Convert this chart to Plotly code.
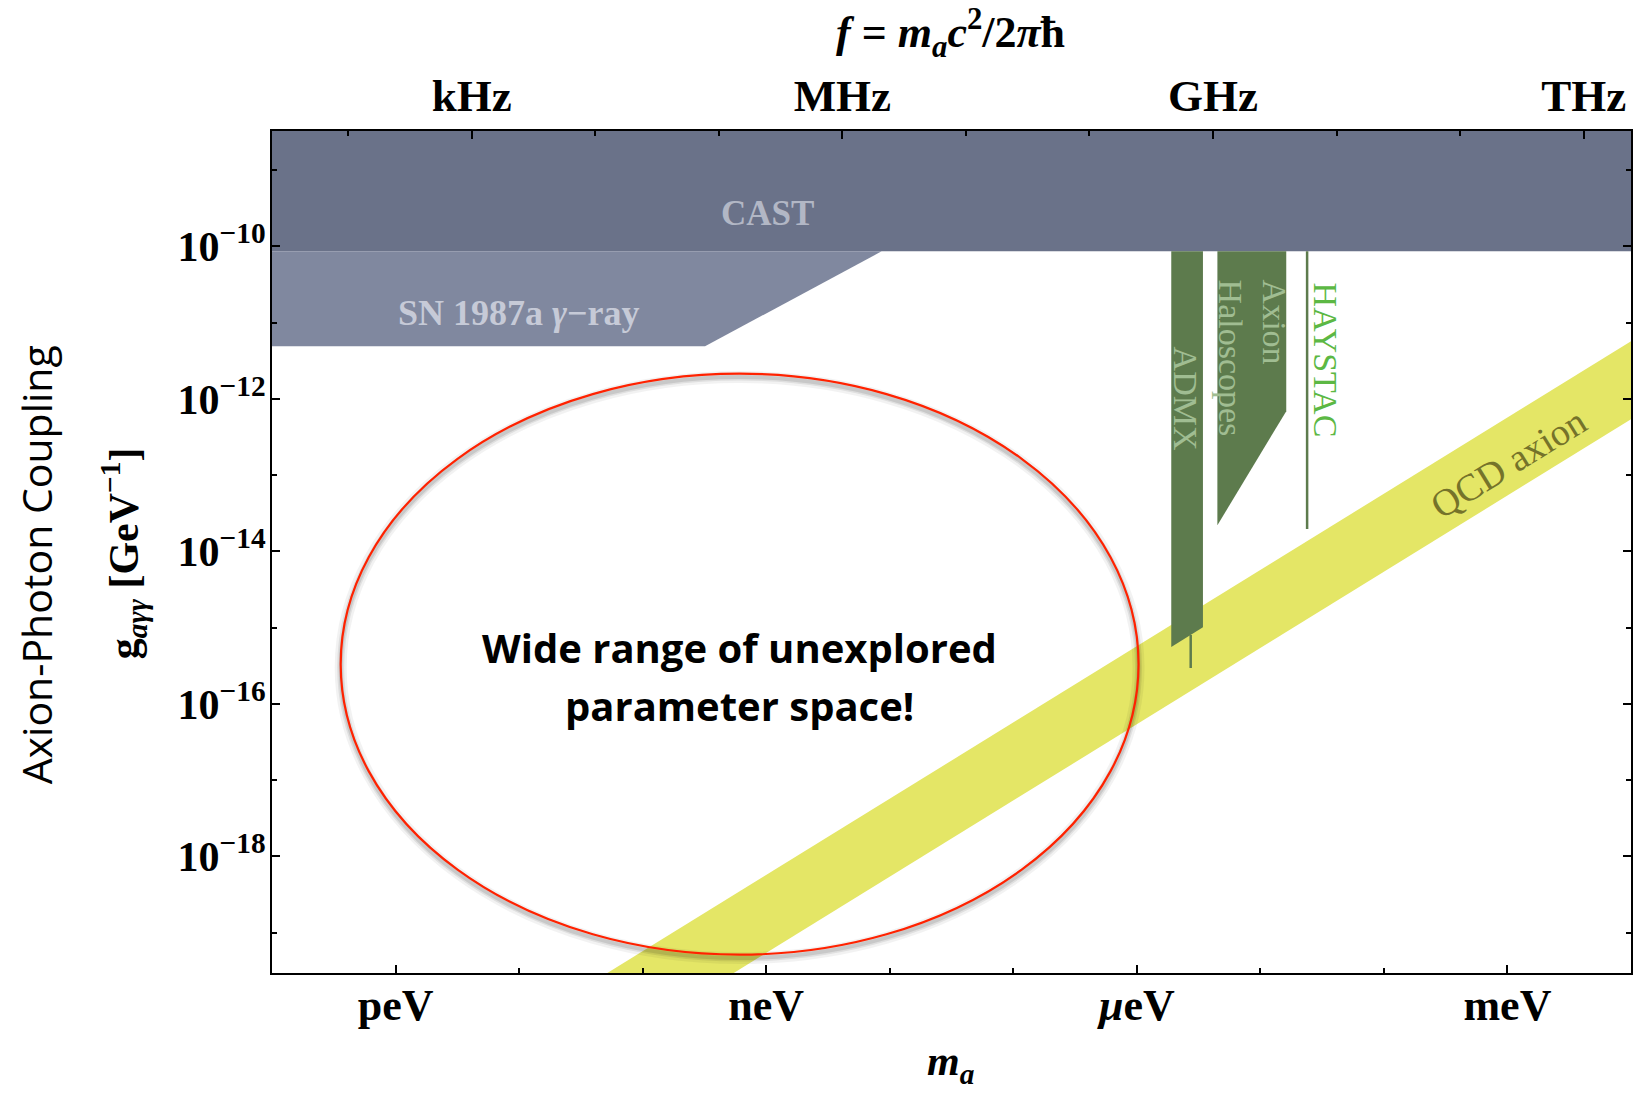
import plotly.graph_objects as go

# ---------------- constants / axis setup ----------------
H_EV_S = 4.135667696e-15          # Planck constant, eV*s  (f = m c^2 / h)
X_RANGE_LOG = [-13.0, -2.0]       # log10(m_a / eV)
Y_RANGE_LOG = [-19.53, -8.487]    # log10(g / GeV^-1)

mass_tick_vals = [1e-12, 1e-9, 1e-6, 1e-3]
mass_tick_text = ["peV", "neV", "<i>μ</i>eV", "meV"]
mass_minor_vals = [1e-13, 1e-11, 1e-10, 1e-8, 1e-7, 1e-5, 1e-4, 1e-2]

freq_tick_hz = [1e3, 1e6, 1e9, 1e12]
freq_tick_text = ["kHz", "MHz", "GHz", "THz"]
freq_minor_hz = [1e2, 1e4, 1e5, 1e7, 1e8, 1e10, 1e11]

coupling_tick_vals = [1e-10, 1e-12, 1e-14, 1e-16, 1e-18]
coupling_tick_text = ["10<sup>−10</sup>", "10<sup>−12</sup>", "10<sup>−14</sup>",
                      "10<sup>−16</sup>", "10<sup>−18</sup>"]
coupling_minor_vals = [1e-9, 1e-11, 1e-13, 1e-15, 1e-17, 1e-19]

# ---------------- exclusion regions / bands ----------------
g_plot_top = 1e-8
cast_mass = [1e-13, 1e-2]
cast_g_limit = 8.6e-11

sn_mass = [1e-13, 3.2e-10, 8.6e-9]
sn_g = [4.9e-12, 4.9e-12, 8.6e-11]

qcd_mass = [1e-11, 1e-2]
qcd_g_upper = [5.7e-21, 5.7e-12]
qcd_g_lower = [5.4e-22, 5.4e-13]

admx_mass = [1.9e-6, 3.43e-6, 3.43e-6, 1.9e-6]
admx_g = [8.6e-11, 8.6e-11, 1.01e-15, 5.55e-16]
admx_tail_mass = [2.73e-6, 2.73e-6]
admx_tail_g = [8.0e-16, 2.95e-16]

halo_mass = [4.49e-6, 1.62e-5, 1.62e-5, 4.49e-6]
halo_g = [8.6e-11, 8.6e-11, 6.9e-13, 2.2e-14]

haystac_mass = [2.39e-5, 2.39e-5]
haystac_g = [8.6e-11, 1.96e-14]

# ellipse (log10 units): centre and half-widths
ellipse_center_log = (-9.215, -15.48)
ellipse_half_log = (3.229, 3.81)

# ---------------- styles ----------------
SERIF = "Liberation Serif"
SANS = "Open Sans"
C_CAST = "#6a7289"
C_SN = "#80889f"
C_GREEN = "#5d7b4d"
C_QCD = "#e4e666"

fig = go.Figure()

# CAST
fig.add_trace(go.Scatter(
    x=[cast_mass[0], cast_mass[1], cast_mass[1], cast_mass[0]],
    y=[g_plot_top, g_plot_top, cast_g_limit, cast_g_limit],
    fill="toself", fillcolor=C_CAST, mode="lines", line=dict(width=0),
    hoverinfo="skip", showlegend=False))

# SN 1987a
fig.add_trace(go.Scatter(
    x=sn_mass + [sn_mass[0]],
    y=sn_g + [cast_g_limit],
    fill="toself", fillcolor=C_SN, mode="lines", line=dict(width=0),
    hoverinfo="skip", showlegend=False))

# QCD axion band
fig.add_trace(go.Scatter(
    x=qcd_mass + qcd_mass[::-1],
    y=qcd_g_upper + qcd_g_lower[::-1],
    fill="toself", fillcolor=C_QCD, mode="lines", line=dict(width=0),
    hoverinfo="skip", showlegend=False))

# ADMX
fig.add_trace(go.Scatter(
    x=admx_mass, y=admx_g, fill="toself", fillcolor=C_GREEN, mode="lines",
    line=dict(width=0), hoverinfo="skip", showlegend=False))
fig.add_trace(go.Scatter(
    x=admx_tail_mass, y=admx_tail_g, mode="lines",
    line=dict(width=2.5, color=C_GREEN), hoverinfo="skip", showlegend=False))

# Axion haloscopes
fig.add_trace(go.Scatter(
    x=halo_mass, y=halo_g, fill="toself", fillcolor=C_GREEN, mode="lines",
    line=dict(width=0), hoverinfo="skip", showlegend=False))

# HAYSTAC
fig.add_trace(go.Scatter(
    x=haystac_mass, y=haystac_g, mode="lines",
    line=dict(width=2.5, color=C_GREEN), hoverinfo="skip", showlegend=False))

# invisible trace so the top (frequency) axis is drawn
fig.add_trace(go.Scatter(
    x=[1e-6], y=[1e-14], xaxis="x2", mode="markers",
    marker=dict(opacity=0), hoverinfo="skip", showlegend=False))

# ---------------- axes ----------------
axis_common = dict(
    type="log", showgrid=False, zeroline=False, ticks="inside",
    ticklen=8, tickwidth=2, tickcolor="black",
    showline=True, linewidth=2, linecolor="black",
)
fig.update_layout(
    width=1639, height=1093,
    margin=dict(l=272, r=6, t=131, b=120),
    plot_bgcolor="white", paper_bgcolor="white",
    showlegend=False,
    xaxis=dict(
        **axis_common, range=X_RANGE_LOG, mirror=True,
        tickmode="array", tickvals=mass_tick_vals, ticktext=mass_tick_text,
        tickfont=dict(family=SERIF, size=44, color="black", weight="bold"),
        ticklabelstandoff=-8,
        minor=dict(tickmode="array", tickvals=mass_minor_vals, ticks="inside",
                   ticklen=5, tickwidth=1.5, tickcolor="black", showgrid=False),
    ),
    xaxis2=dict(
        **axis_common, range=X_RANGE_LOG, overlaying="x", side="top",
        tickmode="array", tickvals=[H_EV_S * f for f in freq_tick_hz],
        ticktext=freq_tick_text,
        tickfont=dict(family=SERIF, size=45, color="black", weight="bold"),
        ticklabelstandoff=0,
        minor=dict(tickmode="array", tickvals=[H_EV_S * f for f in freq_minor_hz],
                   ticks="inside", ticklen=5, tickwidth=1.5, tickcolor="black",
                   showgrid=False),
    ),
    yaxis=dict(
        **axis_common, range=Y_RANGE_LOG, mirror="ticks",
        tickmode="array", tickvals=coupling_tick_vals, ticktext=coupling_tick_text,
        tickfont=dict(family=SERIF, size=42, color="black", weight="bold"),
        ticklabelstandoff=-4,
        minor=dict(tickmode="array", tickvals=coupling_minor_vals, ticks="inside",
                   ticklen=5, tickwidth=1.5, tickcolor="black", showgrid=False),
    ),
)

# ---------------- ellipse ----------------
def to_paper_x(lx):
    return (lx - X_RANGE_LOG[0]) / (X_RANGE_LOG[1] - X_RANGE_LOG[0])

def to_paper_y(ly):
    return (ly - Y_RANGE_LOG[0]) / (Y_RANGE_LOG[1] - Y_RANGE_LOG[0])

ex0 = to_paper_x(ellipse_center_log[0] - ellipse_half_log[0])
ex1 = to_paper_x(ellipse_center_log[0] + ellipse_half_log[0])
ey0 = to_paper_y(ellipse_center_log[1] - ellipse_half_log[1])
ey1 = to_paper_y(ellipse_center_log[1] + ellipse_half_log[1])
shadow_dy = 0.004
for w, op in [(12, 0.05), (7, 0.08), (4, 0.10)]:
    fig.add_shape(type="circle", xref="paper", yref="paper",
                  x0=ex0, x1=ex1, y0=ey0 - shadow_dy, y1=ey1 - shadow_dy,
                  line=dict(color=f"rgba(0,0,0,{op})", width=w), layer="above")
fig.add_shape(type="circle", xref="paper", yref="paper",
              x0=ex0, x1=ex1, y0=ey0, y1=ey1,
              line=dict(color="#ff2200", width=2.2), layer="above")

# ---------------- in-plot labels (log10 coordinates) ----------------
def label(text, lx, ly, size, color, family=SERIF, angle=0, weight="normal", align="center"):
    fig.add_annotation(text=text, x=lx, y=ly, xref="x", yref="y", showarrow=False,
                       xanchor="center", yanchor="middle",
                       textangle=angle, align=align,
                       font=dict(family=family, size=size, color=color, weight=weight))

label("CAST", -8.99, -9.563, 35, "#b2b7c5", weight="bold")
label("SN 1987a <i>γ</i>−ray", -11.0, -10.874, 36, "#c6cad7", weight="bold")
label("ADMX", -5.606, -11.99, 34, "#a0bd92", angle=90)
label("Axion<br>Haloscopes", -5.061, -11.47, 34, "#a0bd92", angle=90, align="left")
label("HAYSTAC", -4.474, -11.49, 34, "#5cb844", angle=90)
label("QCD axion", -2.992, -12.835, 38, "#75732a", angle=-31.6)
label("Wide range of unexplored", -9.22, -15.26, 40, "black", family=SANS, weight="bold")
label("parameter space!", -9.22, -16.02, 40, "black", family=SANS, weight="bold")

# ---------------- axis titles ----------------
PLOT_L, PLOT_R, PLOT_T, PLOT_B = 272, 1633, 131, 973

def px_to_paper(px, py):
    return (px - PLOT_L) / (PLOT_R - PLOT_L), (PLOT_B - py) / (PLOT_B - PLOT_T)

def title(text, px, py, size, angle=0, family=SERIF, weight="bold"):
    tx, ty = px_to_paper(px, py)
    fig.add_annotation(text=text, x=tx, y=ty, xref="paper", yref="paper",
                       showarrow=False, xanchor="center", yanchor="middle",
                       textangle=angle,
                       font=dict(family=family, size=size, color="black", weight=weight))

title("<i>f</i> = <i>m<sub>a</sub>c</i><sup>2</sup>/2<i>π</i>ħ", 951, 33, 44)
title("<i>m<sub>a</sub></i>", 951, 1064, 42)
title("g<sub><i>aγγ</i></sub> [GeV<sup>−1</sup>]", 123, 553, 42, angle=-90)
title("Axion-Photon Coupling", 36, 565, 41, angle=-90, family=SANS, weight="normal")

fig.write_html("out.html",
               config={"displayModeBar": False},
               post_script="document.body.style.margin='0';document.body.style.overflow='hidden';")
